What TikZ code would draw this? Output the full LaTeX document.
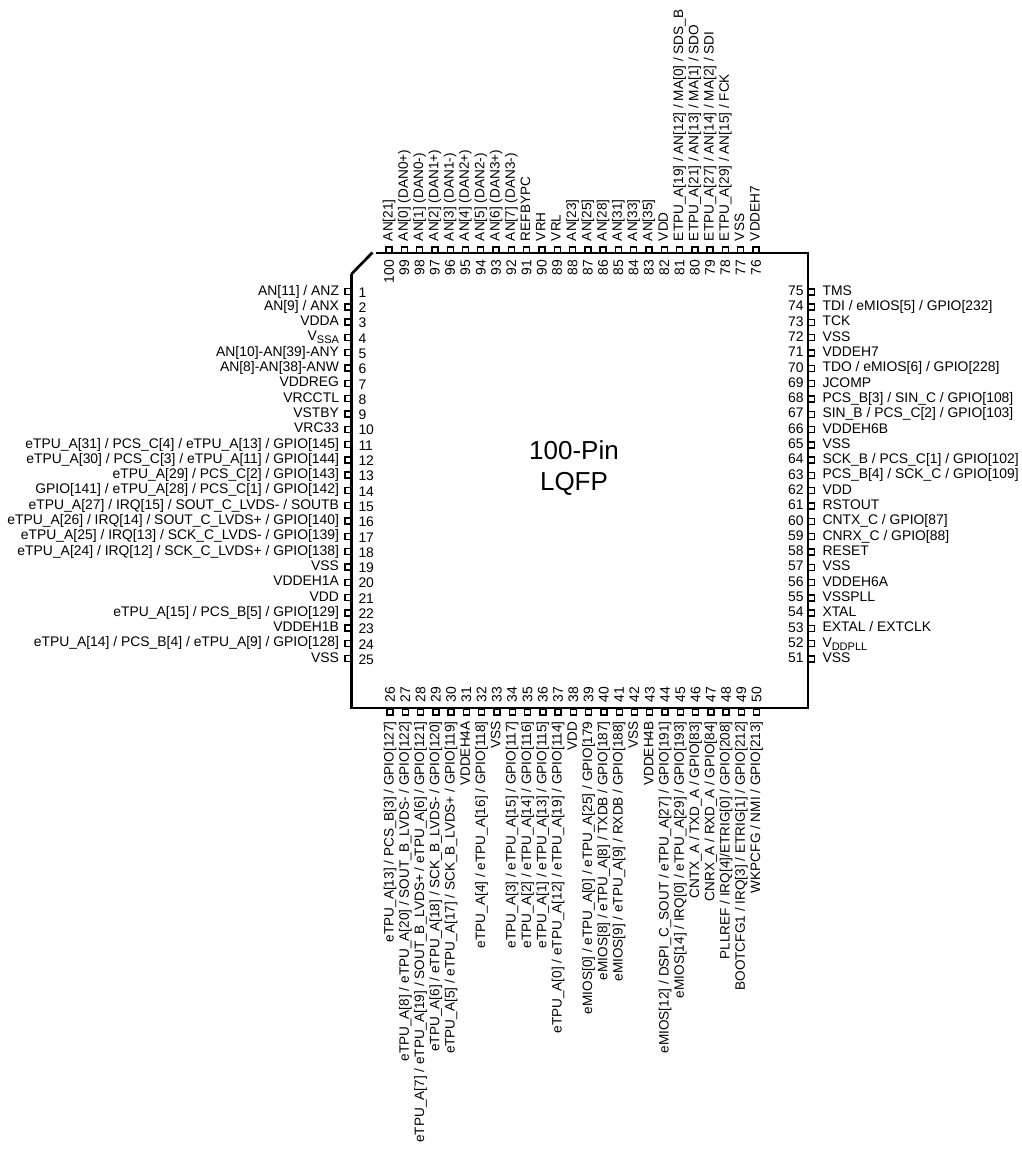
\documentclass[tikz,border=0pt]{standalone}
\usepackage{fontspec}
\setmainfont{Liberation Sans}
\usetikzlibrary{positioning}
\newcommand{\pinsub}[1]{\raisebox{-0.4ex}{\fontsize{11}{11}\selectfont #1}}
\tikzset{%
	pinbox/.style   = {draw, rectangle, line width=1.4pt, inner sep=0pt, outer sep=0pt, minimum size=6pt}, % Package lead
	pinname/.style  = {inner sep=0pt, outer sep=0pt, text height=9.5pt, text depth=2.5pt, font=\fontsize{13.9}{13.9}\selectfont}, % Signal names
	pinvert/.style  = {pinname, font=\fontsize{13.6}{13.6}\selectfont, rotate=90}, % Signal names, top and bottom
	pinno/.style    = {pinname, text height=9.5pt, text depth=0pt}, % Pin numbers
	chip/.style     = {line width=2.7pt},
}
\begin{document}
\begin{tikzpicture}[x=1pt,y=1pt]
	\useasboundingbox (0,0) rectangle (1021,-1151);
	% left side
	\foreach \no/\name in {1/{AN[11] / ANZ}, 2/{AN[9] / ANX}, 3/{VDDA}, 4/{V\pinsub{SSA}}, 5/{AN[10]-AN[39]-ANY}, 6/{AN[8]-AN[38]-ANW}, 7/{VDDREG}, 8/{VRCCTL}, 9/{VSTBY}, 10/{VRC33}, 11/{eTPU\_A[31] / PCS\_C[4] / eTPU\_A[13] / GPIO[145]}, 12/{eTPU\_A[30] / PCS\_C[3] / eTPU\_A[11] / GPIO[144]}, 13/{eTPU\_A[29] / PCS\_C[2] / GPIO[143]}, 14/{GPIO[141] / eTPU\_A[28] / PCS\_C[1] / GPIO[142]}, 15/{eTPU\_A[27] / IRQ[15] / SOUT\_C\_LVDS- / SOUTB}, 16/{eTPU\_A[26] / IRQ[14] / SOUT\_C\_LVDS+ / GPIO[140]}, 17/{eTPU\_A[25] / IRQ[13] / SCK\_C\_LVDS- / GPIO[139]}, 18/{eTPU\_A[24] / IRQ[12] / SCK\_C\_LVDS+ / GPIO[138]}, 19/{VSS}, 20/{VDDEH1A}, 21/{VDD}, 22/{eTPU\_A[15] / PCS\_B[5] / GPIO[129]}, 23/{VDDEH1B}, 24/{eTPU\_A[14] / PCS\_B[4] / eTPU\_A[9] / GPIO[128]}, 25/{VSS}} {
		\node [pinbox] (P\no) at (348,{-291.5-15.3*(\no-1)}) {};
		\node [pinname, left=6pt of P\no] (L\no) {\name};
		\node [pinno, right=7.5pt of P\no, yshift=-1pt] (N\no) {\no};
	}
	% bottom side
	\foreach \no/\name in {26/{eTPU\_A[13] / PCS\_B[3] / GPIO[127]}, 27/{eTPU\_A[8] / eTPU\_A[20] / SOUT\_B\_LVDS- / GPIO[122]}, 28/{eTPU\_A[7] / eTPU\_A[19] / SOUT\_B\_LVDS+ / eTPU\_A[6] / GPIO[121]}, 29/{eTPU\_A[6] / eTPU\_A[18] / SCK\_B\_LVDS- / GPIO[120]}, 30/{eTPU\_A[5] / eTPU\_A[17] / SCK\_B\_LVDS+ / GPIO[119]}, 31/{VDDEH4A}, 32/{eTPU\_A[4] / eTPU\_A[16] / GPIO[118]}, 33/{VSS}, 34/{eTPU\_A[3] / eTPU\_A[15] / GPIO[117]}, 35/{eTPU\_A[2] / eTPU\_A[14] / GPIO[116]}, 36/{eTPU\_A[1] / eTPU\_A[13] / GPIO[115]}, 37/{eTPU\_A[0] / eTPU\_A[12] / eTPU\_A[19] / GPIO[114]}, 38/{VDD}, 39/{eMIOS[0] / eTPU\_A[0] / eTPU\_A[25] / GPIO[179}, 40/{eMIOS[8] / eTPU\_A[8] / TXDB / GPIO[187]}, 41/{eMIOS[9] / eTPU\_A[9] / RXDB / GPIO[188]}, 42/{VSS}, 43/{VDDEH4B}, 44/{eMIOS[12] / DSPI\_C\_SOUT / eTPU\_A[27] / GPIO[191]}, 45/{eMIOS[14] / IRQ[0] / eTPU\_A[29] / GPIO[193]}, 46/{CNTX\_A / TXD\_A / GPIO[83]}, 47/{CNRX\_A / RXD\_A / GPIO[84]}, 48/{PLLREF / IRQ[4]/ETRIG[0] / GPIO[208]}, 49/{BOOTCFG1 / IRQ[3] / ETRIG[1] / GPIO[212]}, 50/{WKPCFG / NMI / GPIO[213]}} {
		\node [pinbox] (P\no) at ({390+15.28*(\no-26)},-712) {};
		\node [pinvert, below=6.5pt of P\no, anchor=east] (L\no) {\name};
		\node [pinno, above=6.5pt of P\no, anchor=west, rotate=90] (N\no) {\no};
	}
	% right side
	\foreach \no/\name in {51/{VSS}, 52/{V\pinsub{DDPLL}}, 53/{EXTAL / EXTCLK}, 54/{XTAL}, 55/{VSSPLL}, 56/{VDDEH6A}, 57/{VSS}, 58/{RESET}, 59/{CNRX\_C / GPIO[88]}, 60/{CNTX\_C / GPIO[87]}, 61/{RSTOUT}, 62/{VDD}, 63/{PCS\_B[4] / SCK\_C / GPIO[109]}, 64/{SCK\_B / PCS\_C[1] / GPIO[102]}, 65/{VSS}, 66/{VDDEH6B}, 67/{SIN\_B / PCS\_C[2] / GPIO[103]}, 68/{PCS\_B[3] / SIN\_C / GPIO[108]}, 69/{JCOMP}, 70/{TDO / eMIOS[6] / GPIO[228]}, 71/{VDDEH7}, 72/{VSS}, 73/{TCK}, 74/{TDI / eMIOS[5] / GPIO[232]}, 75/{TMS}} {
		\node [pinbox] (P\no) at (811.5,{-659+15.3*(\no-51)}) {};
		\node [pinname, right=8pt of P\no] (L\no) {\name};
		\node [pinno, left=5pt of P\no, yshift=1pt] (N\no) {\no};
	}
	% top side
	\foreach \no/\name in {76/{VDDEH7}, 77/{VSS}, 78/{ETPU\_A[29] / AN[15] / FCK}, 79/{ETPU\_A[27] / AN[14] / MA[2] / SDI}, 80/{ETPU\_A[21] / AN[13] / MA[1] / SDO}, 81/{ETPU\_A[19] / AN[12] / MA[0] / SDS\_B}, 82/{VDD}, 83/{AN[35]}, 84/{AN[33]}, 85/{AN[31]}, 86/{AN[28]}, 87/{AN[25]}, 88/{AN[23]}, 89/{VRL}, 90/{VRH}, 91/{REFBYPC}, 92/{AN[7] (DAN3-)}, 93/{AN[6] (DAN3+)}, 94/{AN[5] (DAN2-)}, 95/{AN[4] (DAN2+)}, 96/{AN[3] (DAN1-)}, 97/{AN[2] (DAN1+)}, 98/{AN[1] (DAN0-)}, 99/{AN[0] (DAN0+)}, 100/{AN[21]}} {
		\node [pinbox] (P\no) at ({756-15.29*(\no-76)},-250) {};
		\node [pinvert, above=6pt of P\no, anchor=west] (L\no) {\name};
		\node [pinno, below=7pt of P\no, anchor=east, rotate=90] (N\no) {\no};
	}
	% package outline
	\coordinate (corner a) at (375.5,-253);
	\coordinate (corner b) at (808,-253);
	\coordinate (corner c) at (808,-708);
	\coordinate (corner d) at (351.5,-708);
	\coordinate (corner e) at (351.5,-274);
	\coordinate (corner f) at (372.5,-252.5);
	\draw [chip, line join=miter] (corner a) -- (corner b) -- (corner c) -- (corner d) -- (corner e);
	\draw [chip] (corner e) -- (corner f);
	\node [align=center, font=\fontsize{26}{31}\selectfont] (title) at (574,-468) {100-Pin\\LQFP};
\end{tikzpicture}
\end{document}
